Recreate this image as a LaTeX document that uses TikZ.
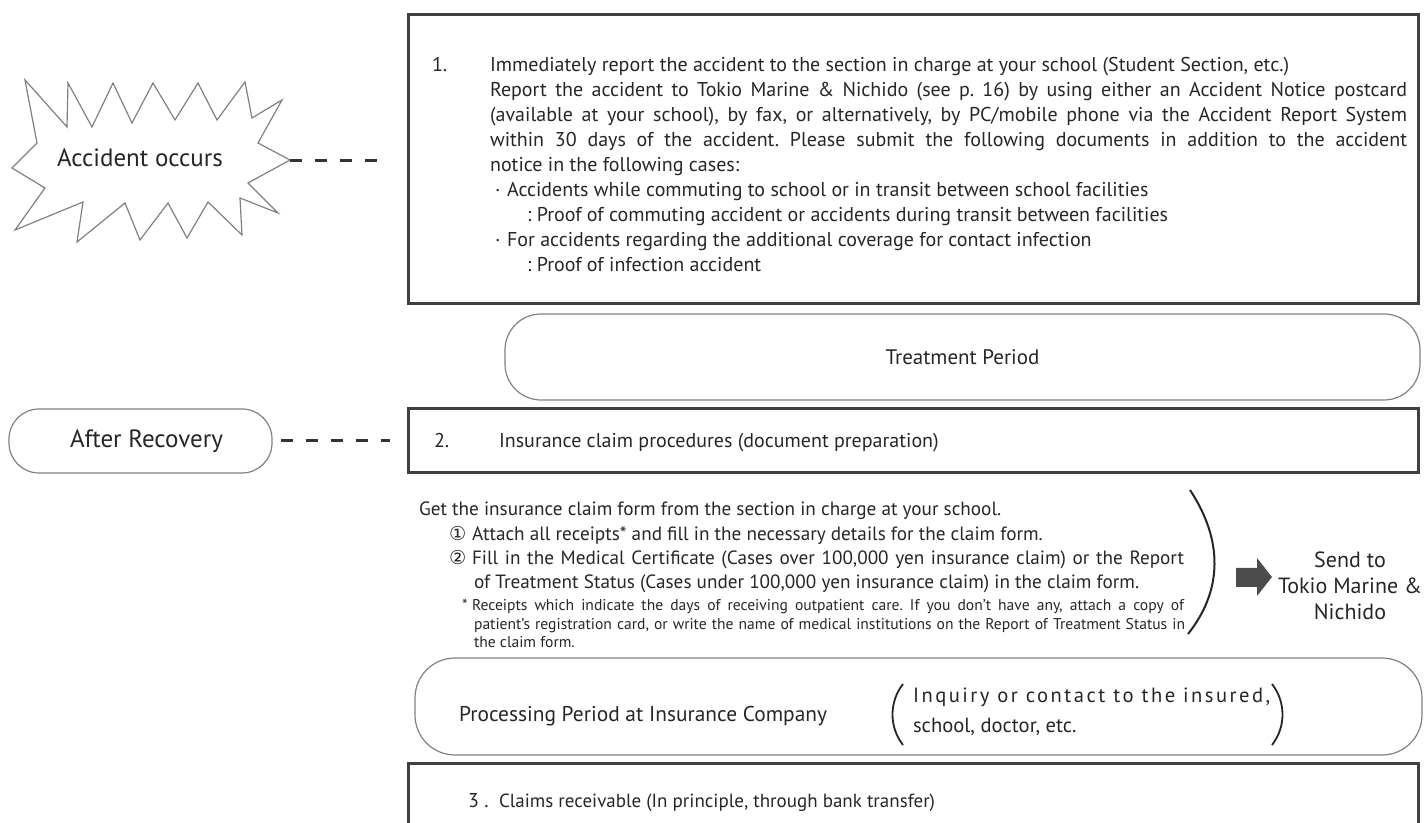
\documentclass[tikz,border=0pt]{standalone}
\usepackage{fontspec}
\setmainfont{PT Sans}
\newfontfamily\circfont{DejaVu Sans}
\usepackage{tikz}
\usetikzlibrary{fit}
\frenchspacing

\newcommand{\txtsize}[2]{\fontsize{#1}{#2}\selectfont}

\begin{document}
\begin{tikzpicture}[x=0.5pt,y=-0.5pt,
    stepframe/.style={draw=black!75,line width=1.5pt,inner sep=0pt},
    period/.style={draw=black!50,line width=0.6pt,inner sep=0pt},
    link/.style={black!80,line width=1.5pt,dash pattern=on 6pt off 6.5pt},
    every node/.style={text=black!85}]
    \useasboundingbox (0,0) rectangle (1426,823);

    \draw[black!50,line width=0.6pt] (25,80) -- (67,127) -- (68,83) -- (92,127) -- (113,83) -- (132,123) -- (153,83) -- (175,120) -- (198,83) -- (217,120) -- (245,82) -- (252,118) -- (282,100) -- (258,143) -- (290,160) -- (248,183) -- (278,213) -- (240,198) -- (242,235) -- (208,202) -- (187,238) -- (168,203) -- (140,240) -- (125,203) -- (77,242) -- (83,202) -- (15,230) -- (45,188) -- (12,168) -- (37,143) -- cycle;
    \node (accident) at (140,158) {\txtsize{12.5}{14}Accident occurs};
    \coordinate (burst tip) at (290,161);

    \node[stepframe,fit={(408,15) (1418,304)}] (report) {};
    \node[anchor=base west,align=left,font=\txtsize{10}{12.5}] (report text) at (425,272) {\makebox[29pt][l]{1.}Immediately report the accident to the section in charge at your school (Student Section, etc.)\\
        \hspace*{29pt}\makebox[458.5pt][s]{Report the accident to Tokio Marine \& Nichido (see p. 16) by using either an Accident Notice postcard}\\
        \hspace*{29pt}\makebox[458.5pt][s]{(available at your school), by fax, or alternatively, by PC/mobile phone via the Accident Report System}\\
        \hspace*{29pt}\makebox[458.5pt][s]{within 30 days of the accident. Please submit the following documents in addition to the accident}\\
        \hspace*{29pt}notice in the following cases:\\
        \hspace*{31.5pt}\makebox[6pt][l]{\textperiodcentered}Accidents while commuting to school or in transit between school facilities\\
        \hspace*{47.5pt}: Proof of commuting accident or accidents during transit between facilities\\
        \hspace*{31.5pt}\makebox[6pt][l]{\textperiodcentered}For accidents regarding the additional coverage for contact infection\\
        \hspace*{47.5pt}: Proof of infection accident};
    \draw[link] (burst tip) -- ([xshift=-8.5pt]report.west |- burst tip);

    \node[period,rounded corners=18pt,fit={(505,314) (1420,400)}] (treatment) {};
    \node[font=\txtsize{10.5}{13}] (treatment text) at (treatment) {Treatment Period};

    \node[period,rounded corners=15pt,fit={(9,409) (272,473)}] (recovery) {};
    \node[font=\txtsize{12.5}{14}] (recovery text) at ([xshift=3pt]recovery) {After Recovery};
    \node[stepframe,fit={(408,409) (1418,473)}] (claim) {};
    \node[anchor=base west,font=\txtsize{10}{12}] (claim num) at (427,448) {2.};
    \node[anchor=base west,font=\txtsize{10}{12}] (claim text) at (492,448) {Insurance claim procedures (document preparation)};
    \draw[link] ([xshift=4pt]recovery.east) -- ([xshift=-8.5pt]claim.west);

    \node[anchor=base west,align=left,font=\txtsize{9.6}{12.2}] (howto) at (412,589) {Get the insurance claim form from the section in charge at your school.\\
        \hspace*{15pt}\makebox[11.5pt][l]{\circfont ①}Attach all receipts* and fill in the necessary details for the claim form.\\
        \hspace*{15pt}\makebox[11.5pt][l]{\circfont ②}\makebox[356pt][s]{Fill in the Medical Certificate (Cases over 100,000 yen insurance claim) or the Report}\\
        \hspace*{27.5pt}of Treatment Status (Cases under 100,000 yen insurance claim) in the claim form.};
    \node[anchor=base west,align=left,font=\txtsize{7.8}{9.25}] (note) at (412,648) {\hspace*{21.5pt}\makebox[5pt][l]{*}\makebox[356pt][s]{Receipts which indicate the days of receiving outpatient care. If you don’t have any, attach a copy of}\\
        \hspace*{27.5pt}\makebox[355.5pt][s]{patient’s registration card, or write the name of medical institutions on the Report of Treatment Status in}\\
        \hspace*{27.5pt}the claim form.};
    \draw[black!85,line width=1pt] (1190,490) .. controls (1223,540) and (1223,590) .. (1188,634);
    \fill[black!70] (1236,568) -- (1257,568) -- (1257,558) -- (1272,577) -- (1257,596) -- (1257,587) -- (1236,587) -- cycle;
    \node[align=center,font=\txtsize{11}{13}] (insurer) at (1350,586) {Send to\\Tokio Marine \&\\Nichido};

    \node[period,rounded corners=20pt,fit={(415,658) (1422,755)}] (processing) {};
    \node[anchor=base west,font=\txtsize{10.7}{13}] (processing text) at (452,722) {Processing Period at Insurance Company};
    \node[anchor=base west,align=left,font=\txtsize{10.3}{15}] (inquiry) at (906,733) {{\addfontfeatures{LetterSpace=12}Inquiry or contact to the insured,}\\school, doctor, etc.};
    \draw[black!85,line width=0.9pt] (903,684) .. controls (889,702) and (889,727) .. (903,745);
    \draw[black!85,line width=0.9pt] (1272,684) .. controls (1286,702) and (1286,727) .. (1272,745);

    \node[stepframe,fit={(408,764) (1418,850)}] (payment) {};
    \node[anchor=base west,font=\txtsize{10}{12}] (payment num) at (461,807) {3 .};
    \node[anchor=base west,font=\txtsize{9.5}{12}] (payment text) at (492,807) {Claims receivable (In principle, through bank transfer)};
\end{tikzpicture}
\end{document}
